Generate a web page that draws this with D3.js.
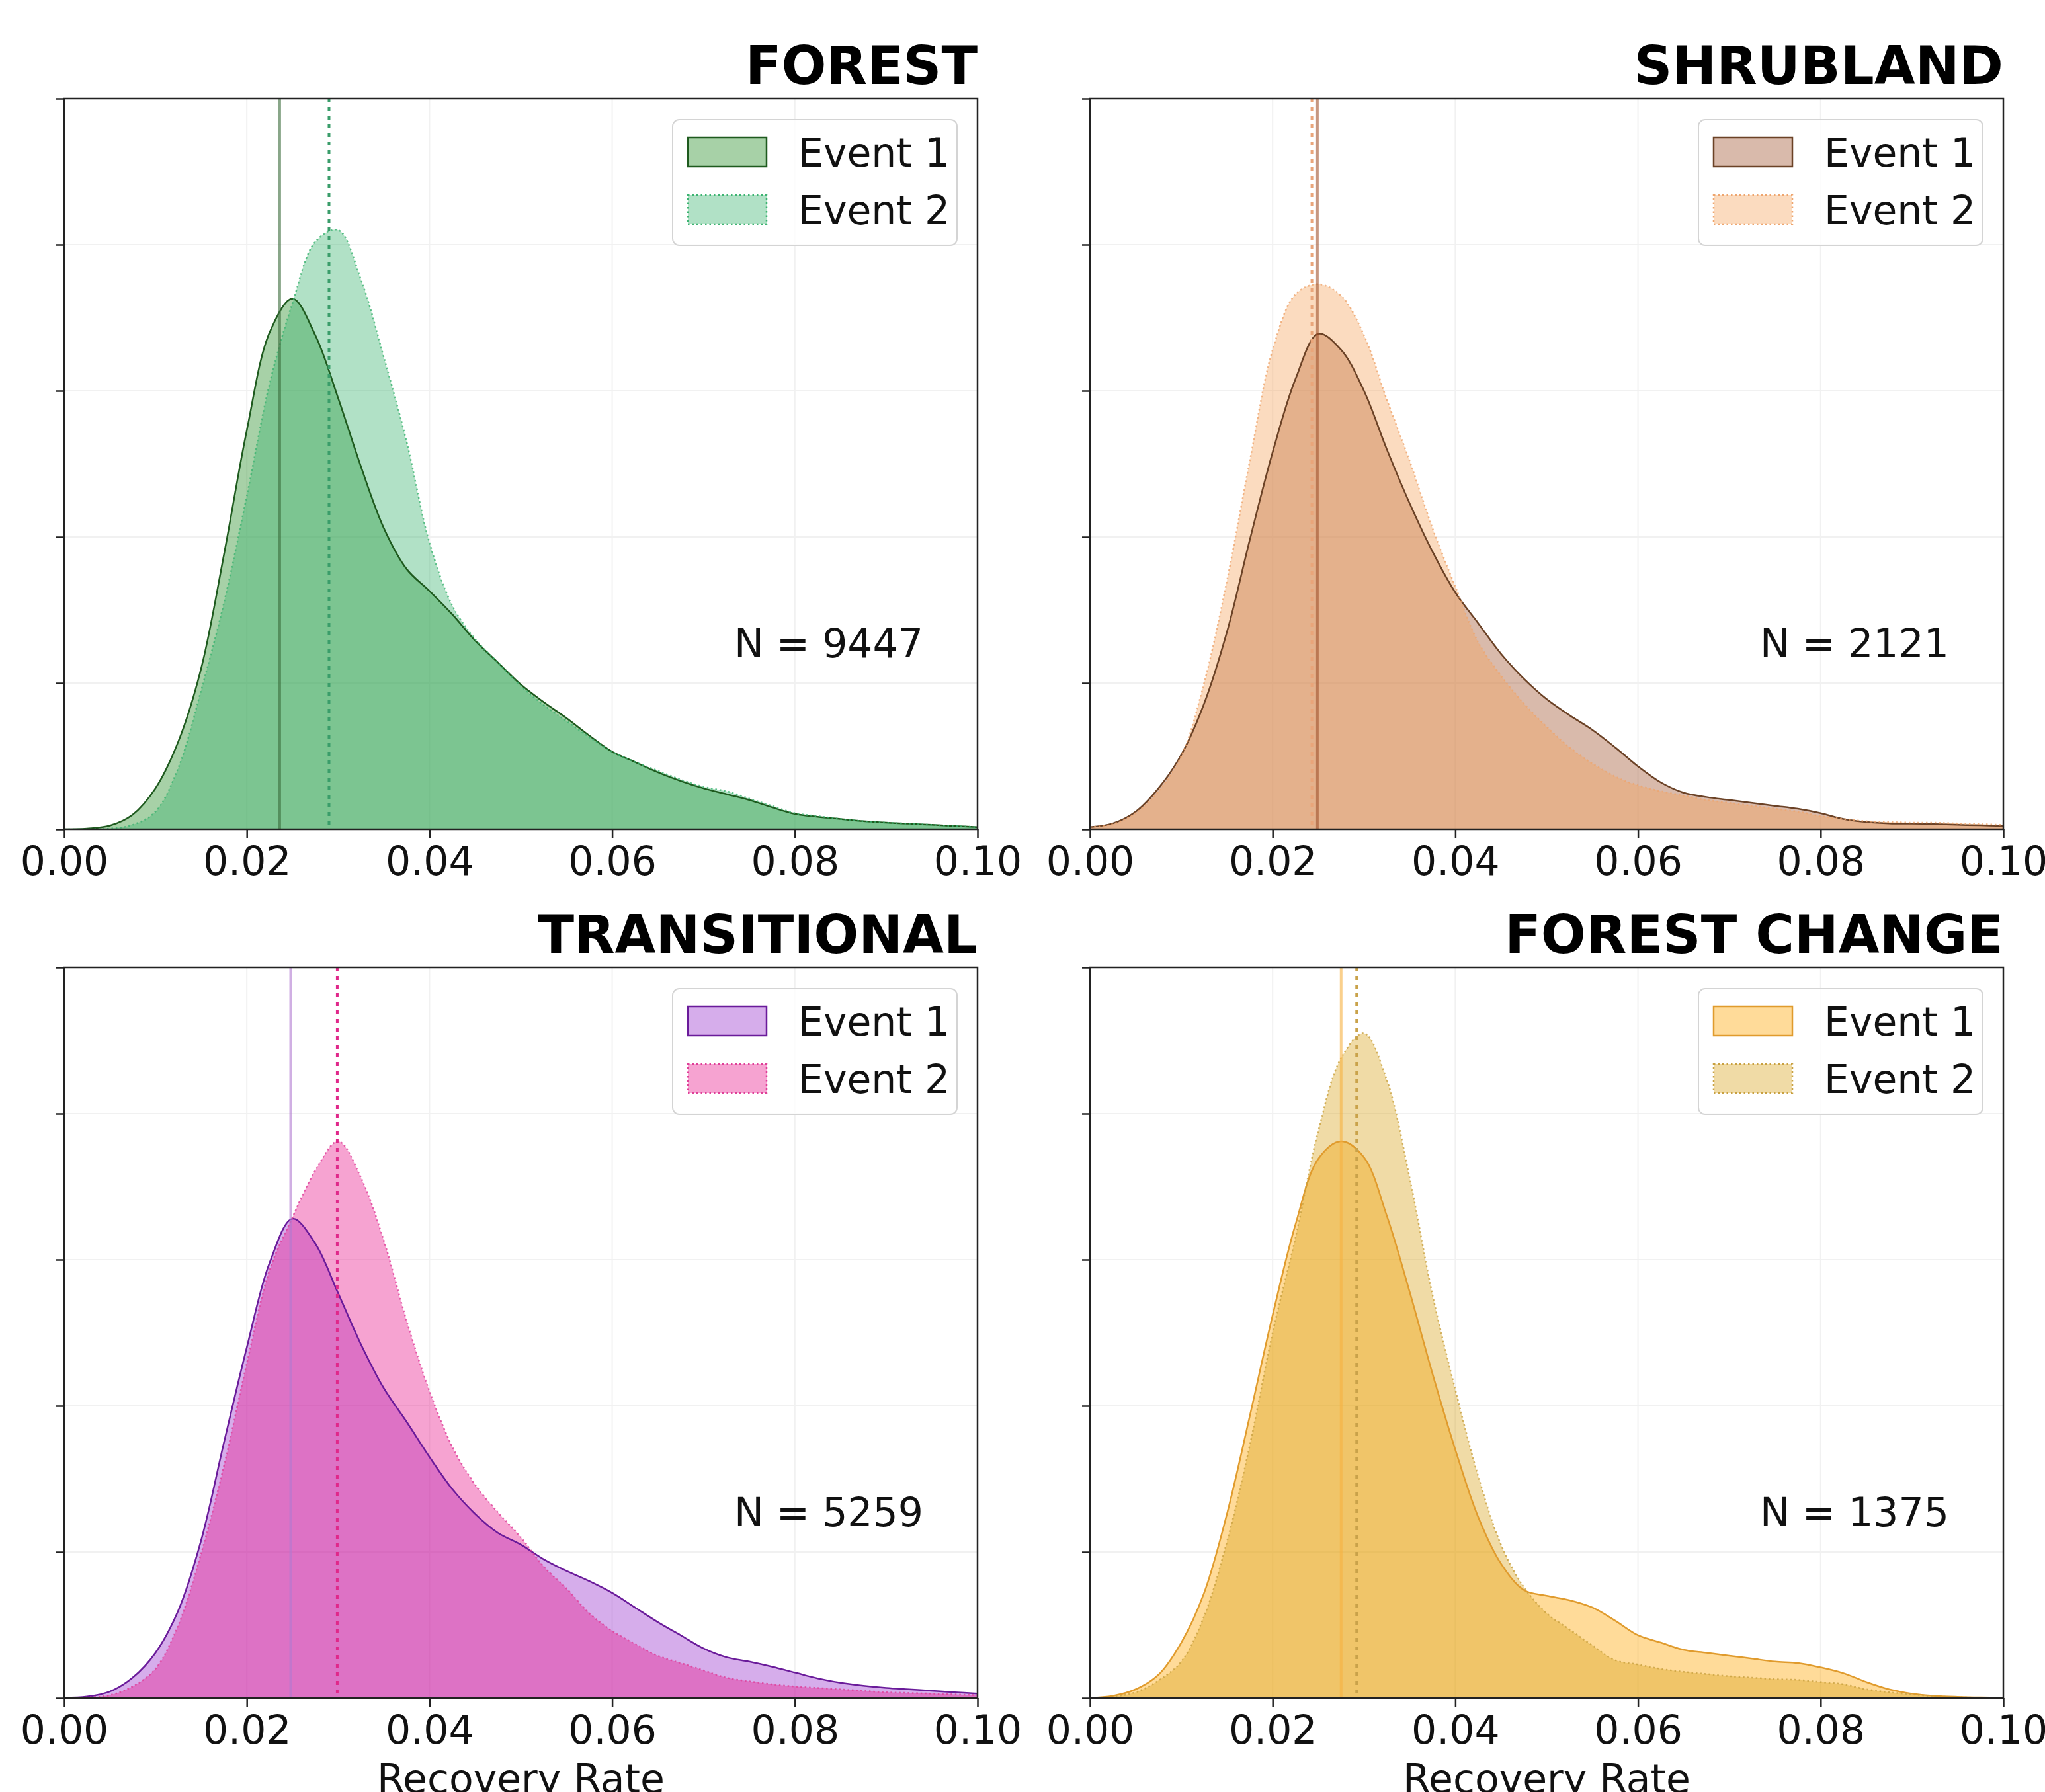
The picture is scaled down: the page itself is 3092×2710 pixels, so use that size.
<!DOCTYPE html>
<html>
<head>
<meta charset="utf-8">
<script src="https://cdn.jsdelivr.net/npm/d3@7"></script>
<style>
body { margin: 0; background: #fff; }
svg { display: block; }
text { font-family: "DejaVu Sans", sans-serif; }
</style>
</head>
<body>
<svg></svg>
<script>
var width = 3092;
var height = 2710;

// recovery rate grid, every 0.0025
var rate = d3.range(41).map(i => +(i * 0.0025).toFixed(4));

// density, one value per grid point
var forestE1 = [0,0.05,0.25,1.0,2.8,6.0,11.0,18.8,27.3,34.0,36.3,33.8,29.5,24.8,20.6,17.8,16.3,14.7,12.9,11.4,9.9,8.7,7.6,6.4,5.3,4.6,3.9,3.3,2.8,2.4,2.0,1.5,1.05,0.85,0.7,0.55,0.45,0.38,0.3,0.22,0.15];
var forestE2 = [0,0,0.05,0.3,1.2,4.2,9.5,15.5,22.8,30.5,36.0,40.2,41.0,37.6,32.3,26.5,19.6,15.3,13.0,11.4,9.8,8.5,7.4,6.3,5.3,4.6,4.0,3.4,2.9,2.6,2.1,1.6,1.1,0.9,0.7,0.55,0.45,0.38,0.3,0.22,0.15];
var shrubE1 = [0.15,0.4,1.2,2.8,5.1,8.6,13.5,19.8,25.8,30.8,33.9,32.8,30.0,26.0,22.3,19.0,16.2,14.1,12.0,10.3,8.9,7.8,6.8,5.6,4.3,3.2,2.5,2.2,2.0,1.8,1.6,1.4,1.1,0.7,0.5,0.4,0.38,0.35,0.3,0.27,0.23];
var shrubE2 = [0.15,0.35,1.1,2.6,5.0,10.0,17.0,25.2,32.8,36.6,37.3,36.5,33.8,29.4,25.2,20.6,16.6,12.8,10.5,8.6,7.0,5.6,4.5,3.6,3.0,2.6,2.3,2.0,1.8,1.6,1.4,1.2,0.9,0.7,0.55,0.5,0.45,0.45,0.4,0.35,0.3];
var transE1 = [0.02,0.1,0.45,1.4,3.1,6.0,10.8,17.5,24,29.8,32.8,31.1,27.7,24.2,21.2,18.9,16.5,14.3,12.6,11.3,10.5,9.5,8.7,8.0,7.2,6.2,5.2,4.3,3.4,2.8,2.5,2.15,1.75,1.35,1.05,0.85,0.7,0.6,0.5,0.4,0.3];
var transE2 = [0,0.05,0.2,0.8,2.0,5.0,9.9,15.9,22.9,29.3,32.9,36.1,38.1,35.6,31.3,25.8,21.0,17.2,14.6,12.7,11.0,9.0,7.5,5.8,4.6,3.7,2.9,2.4,1.9,1.4,1.15,0.95,0.8,0.7,0.6,0.5,0.4,0.35,0.3,0.25,0.2];
var changeE1 = [0.02,0.15,0.6,1.6,3.8,7.2,12.6,19.3,26.2,32.4,36.9,38.1,37.0,33.0,27.8,22.2,17.0,12.4,9.2,7.4,7.0,6.7,6.2,5.3,4.3,3.8,3.3,3.1,2.9,2.7,2.5,2.4,2.1,1.7,1.1,0.6,0.3,0.15,0.08,0.04,0.02];
var changeE2 = [0,0.1,0.4,1.2,2.5,5.6,10.7,17.3,25.0,31.5,38.8,43.8,45.5,42.3,35.6,27.6,21.1,15.2,10.5,7.6,5.8,4.7,3.6,2.6,2.3,2.0,1.8,1.65,1.5,1.4,1.3,1.25,1.1,0.95,0.6,0.4,0.25,0.12,0.06,0.03,0.02];

var titles = ["FOREST", "SHRUBLAND", "TRANSITIONAL", "FOREST CHANGE"];
var nCounts = [9447, 2121, 5259, 1375];
var medianE1 = [0.0236, 0.0249, 0.0248, 0.0275];
var medianE2 = [0.0290, 0.0243, 0.0299, 0.0292];
var xTicks = [0, 0.02, 0.04, 0.06, 0.08, 0.10];
var yTicks = [0, 10, 20, 30, 40, 50];
var events = ["Event 1", "Event 2"];

var fill1 = ["#228b22", "#a0522d", "#9932cc", "#ffa500"];
var fill2 = ["#3cb371", "#f4a460", "#e8198c", "#daa520"];
var edge1 = ["#1e5a1e", "#6b4226", "#6a1b9a", "#e09b2d"];
var edge2 = ["#3cb371", "#eea56e", "#df3f98", "#c8a040"];
var vline1 = ["#3b6b3b", "#a0522d", "#b07ad0", "#f6b040"];
var vline2 = ["#3a9d6a", "#e9a57a", "#e0288a", "#c9a24a"];

var series = [[forestE1, forestE2], [shrubE1, shrubE2], [transE1, transE2], [changeE1, changeE2]];

var panelLeft = [97, 1648];
var panelTop = [149, 1463];
var pw = 1381, ph = 1105;

var svg = d3.select("svg")
    .attr("width", width)
    .attr("height", height);

svg.append("rect").attr("width", width).attr("height", height).attr("fill", "#fff");

var x = d3.scaleLinear().domain([0, 0.1]).range([0, pw]);
var y = d3.scaleLinear().domain([0, 50]).range([ph, 0]);

var area = d3.area()
    .x((d, i) => x(rate[i]))
    .y0(y(0))
    .y1(d => y(d))
    .curve(d3.curveCatmullRom.alpha(0.5));

var line = d3.line()
    .x((d, i) => x(rate[i]))
    .y(d => y(d))
    .curve(d3.curveCatmullRom.alpha(0.5));

titles.forEach((title, i) => {
    var ox = panelLeft[i % 2];
    var oy = panelTop[Math.floor(i / 2)];
    var g = svg.append("g").attr("transform", `translate(${ox},${oy})`);

    g.append("clipPath").attr("id", "clip" + i)
        .append("rect").attr("width", pw).attr("height", ph);

    // faint grid
    g.append("g").selectAll("line").data(xTicks).enter().append("line")
        .attr("x1", d => x(d)).attr("x2", d => x(d))
        .attr("y1", 0).attr("y2", ph)
        .attr("stroke", "#f1f1f1").attr("stroke-width", 2);
    g.append("g").selectAll("line").data(yTicks).enter().append("line")
        .attr("x1", 0).attr("x2", pw)
        .attr("y1", d => y(d)).attr("y2", d => y(d))
        .attr("stroke", "#f1f1f1").attr("stroke-width", 2);

    var plot = g.append("g").attr("clip-path", `url(#clip${i})`);
    var s = series[i];

    plot.append("path").datum(s[0])
        .attr("d", area)
        .attr("fill", fill1[i]).attr("fill-opacity", 0.4);
    plot.append("path").datum(s[1])
        .attr("d", area)
        .attr("fill", fill2[i]).attr("fill-opacity", 0.4);

    plot.append("path").datum(s[0])
        .attr("d", line)
        .attr("fill", "none").attr("stroke", edge1[i]).attr("stroke-width", 2.5);
    plot.append("path").datum(s[1])
        .attr("d", line)
        .attr("fill", "none").attr("stroke", edge2[i]).attr("stroke-width", 2.5)
        .attr("stroke-dasharray", "2.5,4").attr("stroke-opacity", 0.8);

    // median lines
    plot.append("line")
        .attr("x1", x(medianE1[i])).attr("x2", x(medianE1[i]))
        .attr("y1", 0).attr("y2", ph)
        .attr("stroke", vline1[i]).attr("stroke-opacity", 0.6).attr("stroke-width", 4);
    plot.append("line")
        .attr("x1", x(medianE2[i])).attr("x2", x(medianE2[i]))
        .attr("y1", 0).attr("y2", ph)
        .attr("stroke", vline2[i]).attr("stroke-width", 4)
        .attr("stroke-dasharray", "6,7");

    // axes
    var xAxis = d3.axisBottom(x)
        .tickValues(xTicks)
        .tickFormat(d3.format(".2f"))
        .tickSize(14)
        .tickPadding(12);
    var yAxis = d3.axisLeft(y)
        .tickValues(yTicks)
        .tickFormat("")
        .tickSize(12);

    var xg = g.append("g").attr("transform", `translate(0,${ph})`).call(xAxis);
    xg.select(".domain").remove();
    xg.selectAll("line").attr("stroke", "#222").attr("stroke-width", 2.5);
    xg.selectAll("text").attr("font-size", 60).attr("fill", "#111")
        .style("font-family", "DejaVu Sans, sans-serif");

    var yg = g.append("g").call(yAxis);
    yg.select(".domain").remove();
    yg.selectAll("line").attr("stroke", "#222").attr("stroke-width", 2.5);

    g.append("rect")
        .attr("width", pw).attr("height", ph)
        .attr("fill", "none").attr("stroke", "#222").attr("stroke-width", 2.5);

    // legend
    var lg = g.append("g").attr("transform", `translate(${pw - 31 - 430},32)`);
    lg.append("rect")
        .attr("width", 430).attr("height", 190).attr("rx", 10)
        .attr("fill", "#fff").attr("fill-opacity", 0.8)
        .attr("stroke", "#d4d4d4").attr("stroke-width", 2);
    events.forEach((ev, k) => {
        var ry = 27 + k * 87;
        lg.append("rect")
            .attr("x", 23).attr("y", ry).attr("width", 119).attr("height", 44)
            .attr("fill", k == 0 ? fill1[i] : fill2[i]).attr("fill-opacity", 0.4)
            .attr("stroke", k == 0 ? edge1[i] : edge2[i]).attr("stroke-width", 2.5)
            .attr("stroke-dasharray", k == 0 ? null : "2.5,4");
        lg.append("text")
            .attr("x", 190).attr("y", ry + 44)
            .attr("font-size", 60).attr("fill", "#111")
            .text(ev);
    });

    g.append("text")
        .attr("x", 0.837 * pw).attr("y", ph - 260)
        .attr("text-anchor", "middle")
        .attr("font-size", 60).attr("fill", "#111")
        .text(`N = ${nCounts[i]}`);

    g.append("text")
        .attr("x", pw).attr("y", -22)
        .attr("text-anchor", "end")
        .attr("font-size", 80).attr("font-weight", "bold").attr("fill", "#000")
        .text(title);

    if (i >= 2) {
        g.append("text")
            .attr("x", pw / 2).attr("y", ph + 143)
            .attr("text-anchor", "middle")
            .attr("font-size", 60).attr("fill", "#111")
            .text("Recovery Rate");
    }
});
</script>
</body>
</html>
